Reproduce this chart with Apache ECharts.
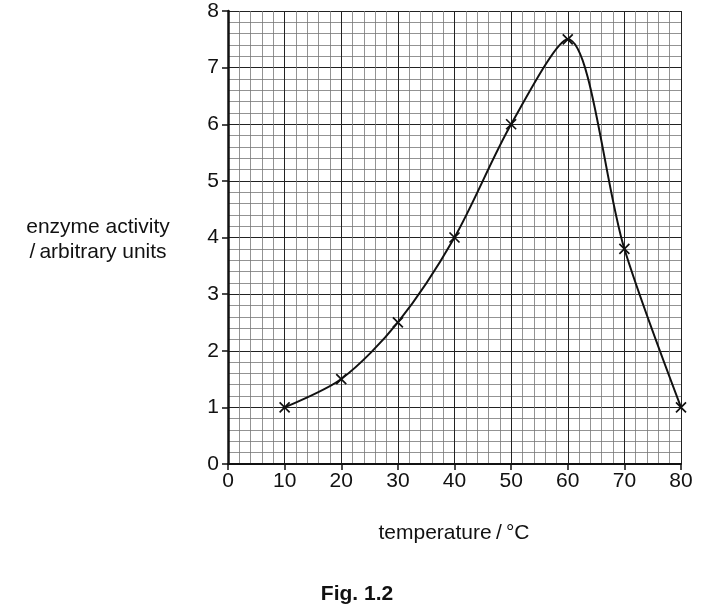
<!DOCTYPE html>
<html>
<head>
    <meta charset="utf-8" />
    <title>Fig. 1.2</title>
    <script src="https://cdn.jsdelivr.net/npm/echarts@6/dist/echarts.min.js"></script>
    <style>
        html, body { margin: 0; padding: 0; background: #fff; }
        #main { width: 703px; height: 610px; }
    </style>
</head>
<body>
    <div id="main"></div>
    <script type="text/javascript">
        // readings
        var temperature = [10, 20, 30, 40, 50, 60, 70, 80];
        var activity = [1, 1.5, 2.5, 4, 6, 7.5, 3.8, 1];

        var font = 'Liberation Sans, Arial, Helvetica, sans-serif';
        var myChart = echarts.init(document.getElementById('main'));

        var points = temperature.map(function (t, i) {
            return [t, activity[i]];
        });

        myChart.setOption({
            animation: false,
            grid: { left: 228, right: 22, top: 11, bottom: 146 },
            title: [
                {
                    text: 'temperature\u2009/\u2009°C',
                    left: 449, top: 518, textAlign: 'center',
                    textStyle: { fontFamily: font, fontSize: 21, fontWeight: 'normal', color: '#111' }
                },
                {
                    text: 'Fig. 1.2',
                    left: 352, top: 579, textAlign: 'center',
                    textStyle: { fontFamily: font, fontSize: 21, fontWeight: 'bold', color: '#111' }
                },
                {
                    text: 'enzyme activity\n/\u2009arbitrary units',
                    left: 93, top: 210, textAlign: 'center',
                    textStyle: { fontFamily: font, fontSize: 21, fontWeight: 'normal', color: '#111', lineHeight: 25, align: 'center' }
                }
            ],
            xAxis: {
                type: 'value', min: 0, max: 80, interval: 10,
                axisLine: { show: true, onZero: false, lineStyle: { color: '#111', width: 2 } },
                axisTick: { show: true, length: 6, lineStyle: { color: '#111', width: 1.5 } },
                axisLabel: { fontFamily: font, fontSize: 21, color: '#111', margin: 7 },
                splitLine: { show: true, lineStyle: { color: '#222', width: 1 } },
                minorTick: { show: true, splitNumber: 5, length: 0 },
                minorSplitLine: { show: true, lineStyle: { color: '#777', width: 0.8 } }
            },
            yAxis: {
                type: 'value', min: 0, max: 8, interval: 1,
                axisLine: { show: true, onZero: false, lineStyle: { color: '#111', width: 2.5 } },
                axisTick: { show: true, length: 6, lineStyle: { color: '#111', width: 1.5 } },
                axisLabel: { fontFamily: font, fontSize: 21, color: '#111', margin: 9 },
                splitLine: { show: true, lineStyle: { color: '#222', width: 1 } },
                minorTick: { show: true, splitNumber: 5, length: 0 },
                minorSplitLine: { show: true, lineStyle: { color: '#777', width: 0.8 } }
            },
            series: [
                {
                    type: 'line',
                    data: points,
                    smooth: 0.3,
                    symbol: 'path://M0,0L10,10M10,0L0,10',
                    symbolSize: 10,
                    showSymbol: true,
                    lineStyle: { color: '#111', width: 2 },
                    itemStyle: { color: 'none', borderColor: '#111', borderWidth: 1.7 },
                    z: 5
                }
            ]
        });
    </script>
</body>
</html>
